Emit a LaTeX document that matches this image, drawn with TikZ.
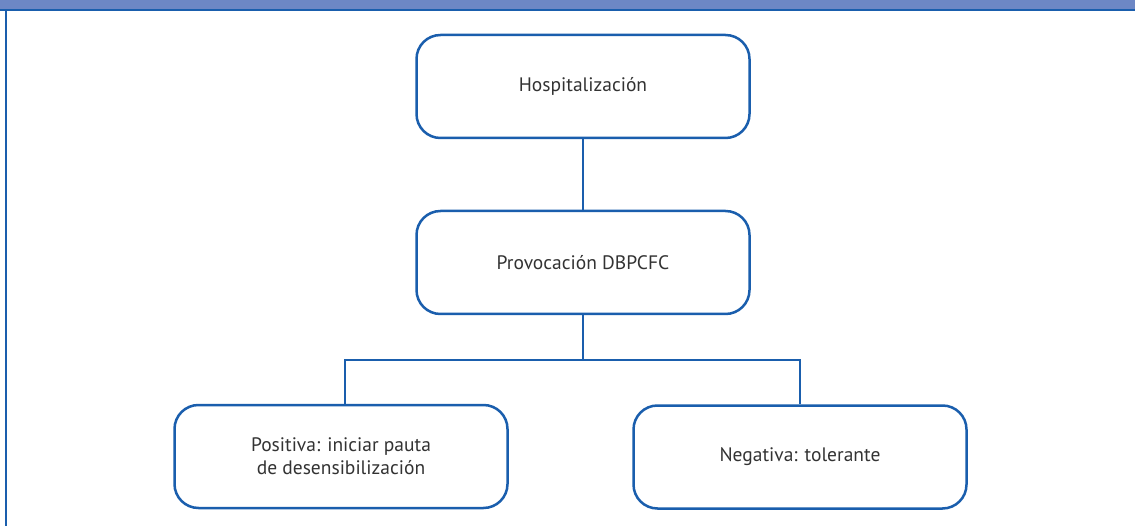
\documentclass[tikz,border=0pt]{standalone}
\usepackage{fontspec}
\setmainfont{PT Sans}
\definecolor{bandblue}{HTML}{6D87C5}
\definecolor{lineblue}{HTML}{1A5EAD}
\definecolor{txt}{HTML}{333333}
\tikzset{
  box/.style={draw=lineblue, line width=2.5pt, rounded corners=24pt, minimum width=333pt, minimum height=103pt, align=center, text=txt, font=\fontsize{19.5}{23}\selectfont, inner sep=0pt},
  conn/.style={draw=lineblue, line width=2.5pt},
}
\begin{document}
\begin{tikzpicture}[x=1pt,y=-1pt]
\useasboundingbox (0,0) rectangle (1135,526);
\fill[white] (0,0) rectangle (1135,526);
\fill[bandblue] (0,0) rectangle (1135,10);
\draw[lineblue, line width=2pt] (0,10.5) -- (1135,10.5);
\draw[lineblue, line width=2pt] (5.5,10) -- (5.5,526);
\node[box] (hosp) at (583,86.5) {Hospitalización};
\node[box] (prov) at (583,262.5) {Provocación DBPCFC};
\node[box] (pos) at (341,456.5) {Positiva: iniciar pauta\\de desensibilización};
\node[box] (neg) at (800,457) {Negativa: tolerante};
\coordinate (split) at (583,360);
\draw[conn] (hosp.south) -- (prov.north);
\draw[conn] (prov.south) -- (split);
\draw[conn] (split) -| (pos.north -| 345,0);
\draw[conn] (split) -| (neg.north);
\end{tikzpicture}
\end{document}
